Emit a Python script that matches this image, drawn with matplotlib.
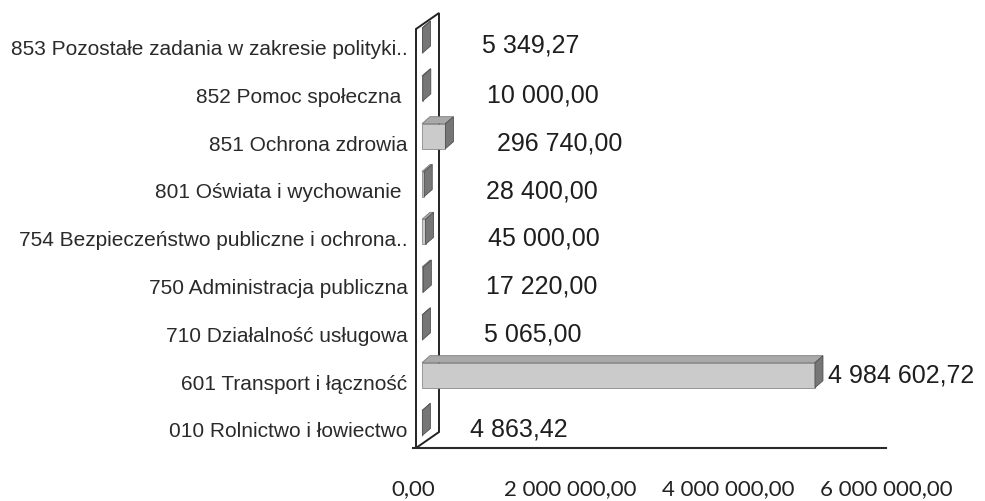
import matplotlib
matplotlib.use("Agg")
import matplotlib.pyplot as plt
from matplotlib.patches import Polygon

# data, bottom to top as drawn
categories = [
    "010 Rolnictwo i łowiectwo",
    "601 Transport i łączność",
    "710 Działalność usługowa",
    "750 Administracja publiczna",
    "754 Bezpieczeństwo publiczne i ochrona..",
    "801 Oświata i wychowanie ",
    "851 Ochrona zdrowia",
    "852 Pomoc społeczna ",
    "853 Pozostałe zadania w zakresie polityki..",
]
values = [4863.42, 4984602.72, 5065.00, 17220.00, 45000.00,
          28400.00, 296740.00, 10000.00, 5349.27]
tick_values = [0, 2000000, 4000000, 6000000]
tick_labels = ["0,00", "2 000 000,00", "4 000 000,00", "6 000 000,00"]

# label placement (pixels from bar end / category centre)
label_dx = [48, 13, 62, 63, 62, 62, 52, 64, 60]
label_dy = [0, 7, 0, 0, 0, 0, 0, 0, 2]

W, H, DPI = 985, 502, 100
ax_left, ax_right = 413, 886      # pixel x of 0 and 6 000 000
floor_y, top_y = 449, 13          # pixel y of axes bottom / top
cat0_y, step = 430, 47.8          # pixel y of first category, spacing

fig = plt.figure(figsize=(W / DPI, H / DPI), dpi=DPI)
ax = fig.add_axes([ax_left / W, (H - floor_y) / H,
                   (ax_right - ax_left) / W, (floor_y - top_y) / H])

xmax = 6000000
sx = xmax / (ax_right - ax_left)   # data units per pixel (x)
sy = 1 / step                      # data units per pixel (y)
ax.set_xlim(0, xmax)
ax.set_ylim((cat0_y - floor_y) * sy, (cat0_y - top_y) * sy)


def px(xp, yp):
    return ((xp - ax_left) * sx, (cat0_y - yp) * sy)


# side wall of the 3D frame
wall = [px(416, 449), px(416, 30), px(439, 14), px(439, 433)]
ax.add_patch(Polygon(wall, closed=True, facecolor="white",
                     edgecolor="#222222", linewidth=1.4, zorder=1))

# 3D bars
x0 = 9 * sx
dx, dy = 8 * sx, 7 * sy
h = 25 * sy
for i, v in enumerate(values):
    yc = i + 6 * sy
    yb, yt = yc - h / 2, yc + h / 2
    x1 = x0 + v
    ax.barh(yc, v, left=x0, height=h, color="#cbcbcb",
            edgecolor="#8a8a8a", linewidth=0.6, zorder=3)
    top = [(x0, yt), (x1, yt), (x1 + dx, yt + dy), (x0 + dx, yt + dy)]
    ax.add_patch(Polygon(top, closed=True, facecolor="#a9a9a9",
                         edgecolor="#7a7a7a", linewidth=0.6, zorder=3))
    side = [(x1, yb), (x1 + dx, yb + dy), (x1 + dx, yt + dy), (x1, yt)]
    ax.add_patch(Polygon(side, closed=True, facecolor="#767676",
                         edgecolor="#505050", linewidth=0.6, zorder=4))

    txt = f"{v:,.2f}".replace(",", " ").replace(".", ",")
    ax.annotate(txt, xy=(x1, i), xytext=(label_dx[i], label_dy[i]),
                textcoords="offset pixels", ha="left", va="center",
                fontsize=18, family="Liberation Sans", color="#1e1e1e")

# axes cosmetics
for s in ["top", "right", "left"]:
    ax.spines[s].set_visible(False)
ax.spines["bottom"].set_color("#2a2a2a")
ax.spines["bottom"].set_linewidth(1.5)

ax.set_yticks(range(len(categories)))
ax.set_yticklabels(categories, fontsize=15, family="Liberation Sans",
                   color="#2a2a2a")
ax.tick_params(axis="y", length=0, pad=4)

ax.set_xticks(tick_values)
ax.set_xticklabels(tick_labels, fontsize=16, family="Lato", color="#222222")
ax.tick_params(axis="x", length=0, pad=22)

fig.savefig("out.png", dpi=DPI)
